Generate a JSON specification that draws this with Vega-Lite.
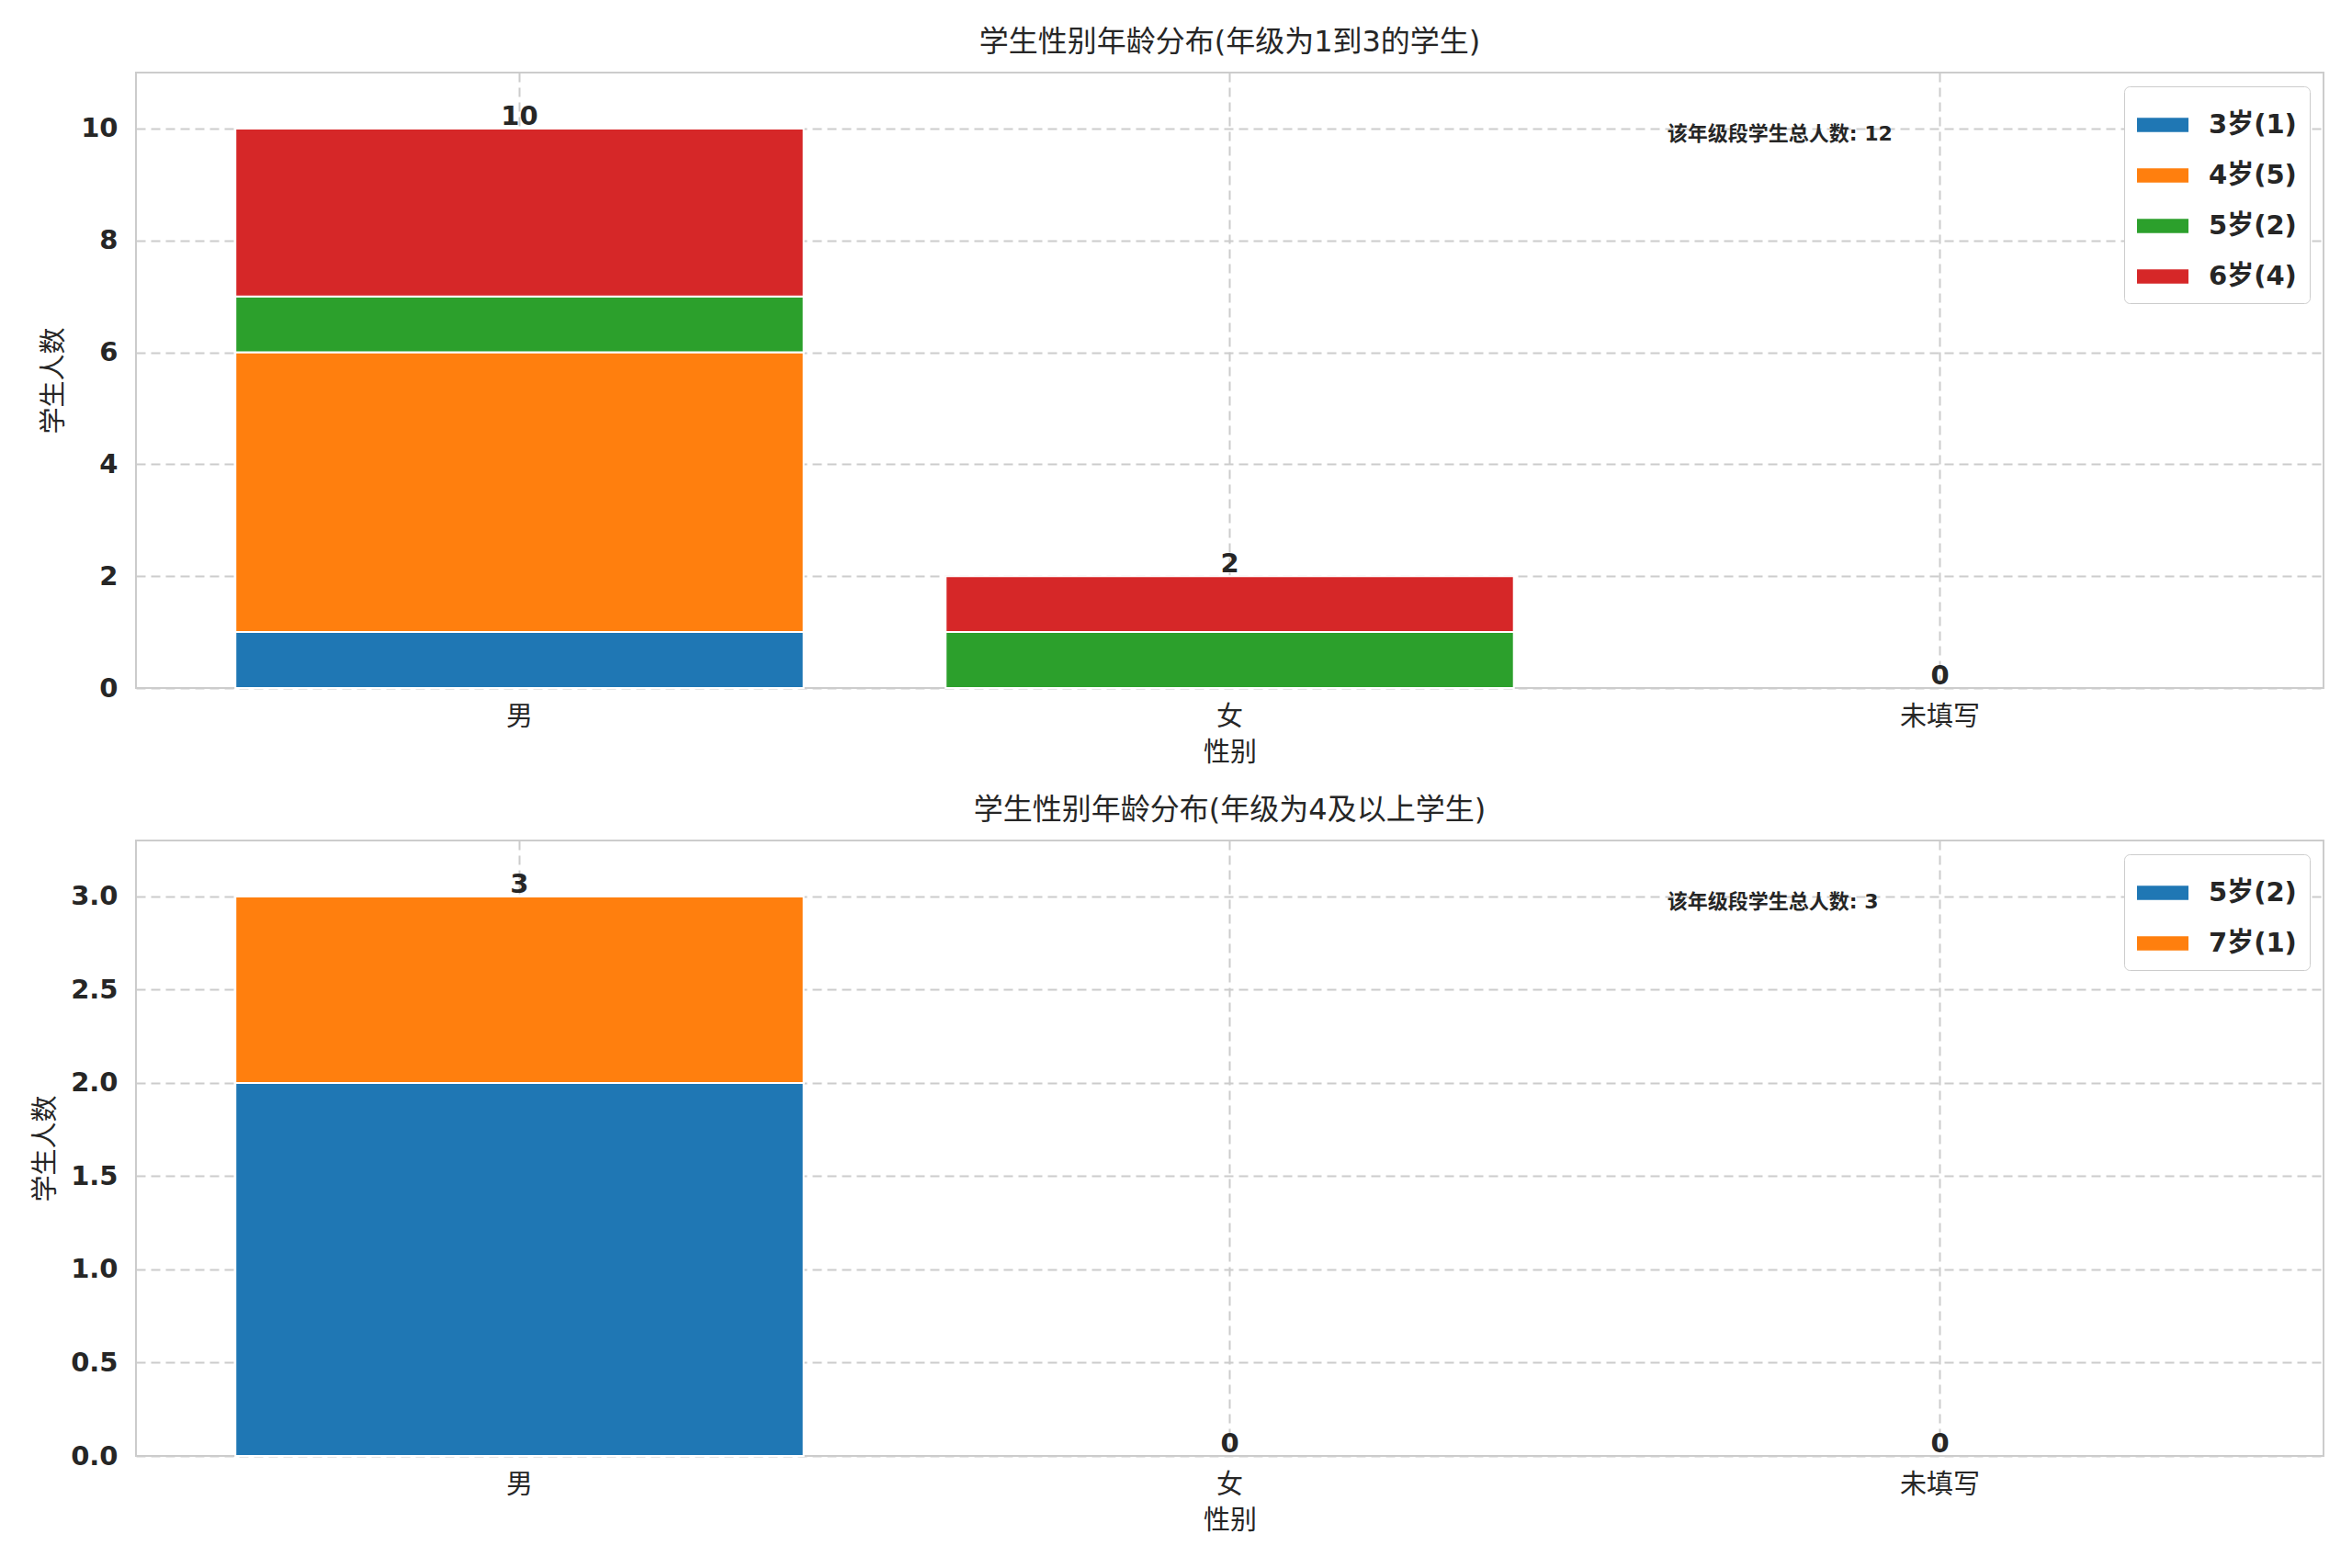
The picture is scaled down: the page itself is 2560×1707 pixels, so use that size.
{
  "$schema": "https://vega.github.io/schema/vega-lite/v6.json",
  "background": "white",
  "padding": {"left": 34, "top": 29, "right": 12, "bottom": 20},
  "config": {
    "font": "DejaVu Sans, Noto Sans CJK SC",
    "view": {"stroke": "#cccccc", "strokeWidth": 2},
    "axis": {
      "domain": false,
      "ticks": false,
      "grid": true,
      "gridColor": "#cccccc",
      "gridDash": [10, 6],
      "gridWidth": 2,
      "labelFontSize": 29,
      "labelColor": "#262626",
      "titleFontSize": 29,
      "titleFontWeight": "normal",
      "titleColor": "#262626"
    },
    "title": {"fontSize": 32, "fontWeight": "normal", "color": "#262626", "offset": 16},
    "legend": {
      "orient": "top-right",
      "offset": 15,
      "labelFontSize": 29,
      "labelFontWeight": "bold",
      "labelColor": "#262626",
      "symbolType": "M-1,-0.28L1,-0.28L1,0.28L-1,0.28Z",
      "symbolSize": 3136,
      "symbolStrokeWidth": 0,
      "symbolOpacity": 1,
      "labelOffset": 22,
      "rowPadding": 12,
      "padding": 14,
      "strokeColor": "#cccccc",
      "fillColor": "white",
      "cornerRadius": 6
    }
  },
  "datasets": {
    "bars": [
      {"panel": "low", "gender": "男", "age": "3岁(1)", "count": 1},
      {"panel": "low", "gender": "男", "age": "4岁(5)", "count": 5},
      {"panel": "low", "gender": "男", "age": "5岁(2)", "count": 1},
      {"panel": "low", "gender": "男", "age": "6岁(4)", "count": 3},
      {"panel": "low", "gender": "女", "age": "5岁(2)", "count": 1},
      {"panel": "low", "gender": "女", "age": "6岁(4)", "count": 1},
      {"panel": "high", "gender": "男", "age": "5岁(2)", "count": 2},
      {"panel": "high", "gender": "男", "age": "7岁(1)", "count": 1}
    ],
    "totals": [
      {"panel": "low", "gender": "男", "total": 10},
      {"panel": "low", "gender": "女", "total": 2},
      {"panel": "low", "gender": "未填写", "total": 0},
      {"panel": "high", "gender": "男", "total": 3},
      {"panel": "high", "gender": "女", "total": 0},
      {"panel": "high", "gender": "未填写", "total": 0}
    ],
    "notes": [
      {"panel": "low", "fx": 0.7, "fy": 9.9, "label": "该年级段学生总人数: 12"},
      {"panel": "high", "fx": 0.7, "fy": 2.97, "label": "该年级段学生总人数: 3"}
    ]
  },
  "spacing": 30,
  "resolve": {"scale": {"color": "independent"}, "legend": {"color": "independent"}},
  "vconcat": [
    {
      "title": "学生性别年龄分布(年级为1到3的学生)",
      "width": 2381,
      "height": 670,
      "layer": [
        {
          "layer": [
            {
              "data": {"name": "bars"},
              "transform": [{"filter": "datum.panel == 'low'"}],
              "mark": {"type": "bar", "stroke": "white", "strokeWidth": 2},
              "encoding": {
                "x": {
                  "field": "gender",
                  "type": "nominal",
                  "sort": ["男", "女", "未填写"],
                  "scale": {"domain": ["男", "女", "未填写"], "paddingInner": 0.2, "paddingOuter": 0.14},
                  "title": "性别",
                  "axis": {"labelAngle": 0, "grid": true, "bandPosition": 0.5, "labelPadding": 17, "titlePadding": 10}
                },
                "y": {
                  "field": "count",
                  "type": "quantitative",
                  "stack": "zero",
                  "title": "学生人数",
                  "scale": {"domain": [0, 11], "nice": false},
                  "axis": {"values": [0, 2, 4, 6, 8, 10], "format": "d", "labelFontWeight": "bold", "labelPadding": 20, "titlePadding": 14}
                },
                "color": {
                  "field": "age",
                  "type": "nominal",
                  "scale": {"range": ["#1f77b4", "#ff7f0e", "#2ca02c", "#d62728"]},
                  "legend": {"title": null}
                },
                "order": {"field": "age", "type": "nominal", "sort": "ascending"}
              }
            },
            {
              "data": {"name": "totals"},
              "transform": [{"filter": "datum.panel == 'low'"}],
              "mark": {"type": "text", "fontSize": 29, "fontWeight": "bold", "baseline": "bottom", "color": "#262626", "dy": 2},
              "encoding": {
                "x": {"field": "gender", "type": "nominal", "sort": ["男", "女", "未填写"]},
                "y": {"field": "total", "type": "quantitative"},
                "text": {"field": "total", "type": "quantitative"}
              }
            }
          ]
        },
        {
          "data": {"name": "notes"},
          "transform": [{"filter": "datum.panel == 'low'"}],
          "mark": {"type": "text", "align": "left", "baseline": "middle", "fontSize": 22, "fontWeight": "bold", "color": "#262626"},
          "encoding": {
            "x": {"field": "fx", "type": "quantitative", "scale": {"domain": [0, 1], "nice": false}, "axis": null},
            "y": {"field": "fy", "type": "quantitative"},
            "text": {"field": "label", "type": "nominal"}
          }
        }
      ],
      "resolve": {"scale": {"x": "independent"}}
    },
    {
      "title": "学生性别年龄分布(年级为4及以上学生)",
      "width": 2381,
      "height": 670,
      "layer": [
        {
          "layer": [
            {
              "data": {"name": "bars"},
              "transform": [{"filter": "datum.panel == 'high'"}],
              "mark": {"type": "bar", "stroke": "white", "strokeWidth": 2},
              "encoding": {
                "x": {
                  "field": "gender",
                  "type": "nominal",
                  "sort": ["男", "女", "未填写"],
                  "scale": {"domain": ["男", "女", "未填写"], "paddingInner": 0.2, "paddingOuter": 0.14},
                  "title": "性别",
                  "axis": {"labelAngle": 0, "grid": true, "bandPosition": 0.5, "labelPadding": 17, "titlePadding": 10}
                },
                "y": {
                  "field": "count",
                  "type": "quantitative",
                  "stack": "zero",
                  "title": "学生人数",
                  "scale": {"domain": [0, 3.3], "nice": false},
                  "axis": {"values": [0, 0.5, 1, 1.5, 2, 2.5, 3], "format": ".1f", "labelFontWeight": "bold", "labelPadding": 20, "titlePadding": 12}
                },
                "color": {
                  "field": "age",
                  "type": "nominal",
                  "scale": {"range": ["#1f77b4", "#ff7f0e"]},
                  "legend": {"title": null}
                },
                "order": {"field": "age", "type": "nominal", "sort": "ascending"}
              }
            },
            {
              "data": {"name": "totals"},
              "transform": [{"filter": "datum.panel == 'high'"}],
              "mark": {"type": "text", "fontSize": 29, "fontWeight": "bold", "baseline": "bottom", "color": "#262626", "dy": 2},
              "encoding": {
                "x": {"field": "gender", "type": "nominal", "sort": ["男", "女", "未填写"]},
                "y": {"field": "total", "type": "quantitative"},
                "text": {"field": "total", "type": "quantitative"}
              }
            }
          ]
        },
        {
          "data": {"name": "notes"},
          "transform": [{"filter": "datum.panel == 'high'"}],
          "mark": {"type": "text", "align": "left", "baseline": "middle", "fontSize": 22, "fontWeight": "bold", "color": "#262626"},
          "encoding": {
            "x": {"field": "fx", "type": "quantitative", "scale": {"domain": [0, 1], "nice": false}, "axis": null},
            "y": {"field": "fy", "type": "quantitative"},
            "text": {"field": "label", "type": "nominal"}
          }
        }
      ],
      "resolve": {"scale": {"x": "independent"}}
    }
  ]
}
